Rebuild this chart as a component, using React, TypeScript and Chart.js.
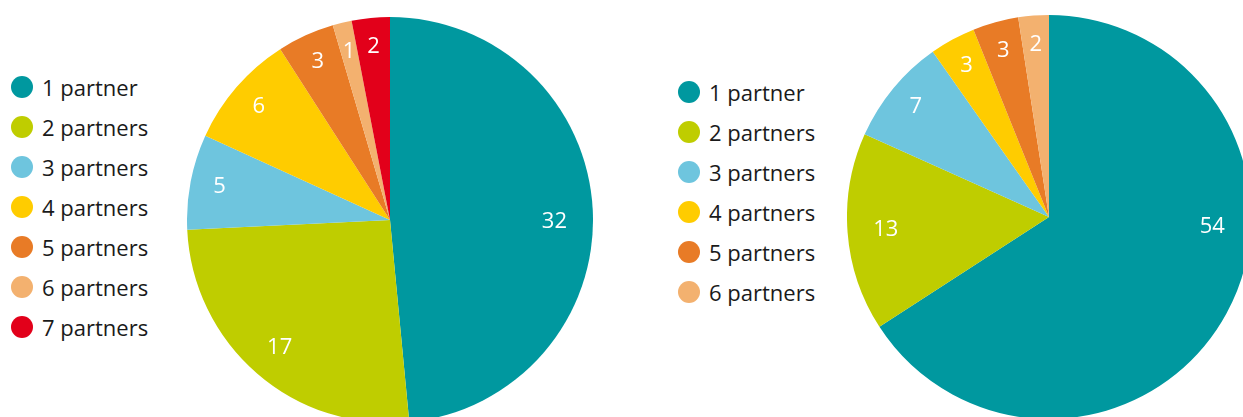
import React, { useEffect, useRef } from "react";
import { Chart, registerables } from "chart.js";

Chart.register(...registerables);

const leftCategories = ["1 partner", "2 partners", "3 partners", "4 partners", "5 partners", "6 partners", "7 partners"];
const leftValues = [32, 17, 5, 6, 3, 1, 2];

const rightCategories = ["1 partner", "2 partners", "3 partners", "4 partners", "5 partners", "6 partners"];
const rightValues = [54, 13, 7, 3, 3, 2];

const COLORS = ["#00989f", "#bfcd00", "#6ec5de", "#ffcc00", "#e87b26", "#f3b16f", "#e2001a"];

const FONT = "'Open Sans', 'DejaVu Sans', sans-serif";

const labelPlugin = {
  id: "sliceLabels",
  afterDatasetsDraw(chart: any, _args: any, opts: any) {
    const ctx = chart.ctx;
    const meta = chart.getDatasetMeta(0);
    const data = chart.data.datasets[0].data;
    const overrides = (opts && opts.angleShift) || {};
    const fracs = (opts && opts.fracs) || {};
    ctx.save();
    ctx.fillStyle = "#ffffff";
    ctx.font = "22px " + FONT;
    ctx.textAlign = "center";
    ctx.textBaseline = "middle";
    meta.data.forEach((arc: any, i: number) => {
      const p = arc.getProps(["x", "y", "startAngle", "endAngle", "outerRadius"], true);
      let a = (p.startAngle + p.endAngle) / 2;
      if (overrides[i] !== undefined) a += overrides[i];
      const f = fracs[i] !== undefined ? fracs[i] : 0.855;
      const r = p.outerRadius * f;
      ctx.fillText(String(data[i]), p.x + Math.cos(a) * r, p.y + Math.sin(a) * r);
    });
    ctx.restore();
  },
};

function PieCanvas(props: { values: number[]; labels: string[]; size: number; left: number; top: number; pluginOpts: any }) {
  const ref = useRef<HTMLCanvasElement>(null);
  useEffect(() => {
    if (!ref.current) return;
    const chart = new Chart(ref.current, {
      type: "pie",
      data: {
        labels: props.labels,
        datasets: [
          {
            data: props.values,
            backgroundColor: COLORS.slice(0, props.values.length),
            borderWidth: 0,
            hoverBorderWidth: 0,
            offset: 0,
            hoverOffset: 0,
          } as any,
        ],
      },
      options: {
        responsive: false,
        animation: false,
        layout: { padding: 0 },
        plugins: {
          legend: { display: false },
          tooltip: { enabled: false },
          sliceLabels: props.pluginOpts,
        } as any,
      },
      plugins: [labelPlugin],
    });
    return () => chart.destroy();
  }, []);
  return (
    <canvas
      ref={ref}
      width={props.size}
      height={props.size}
      style={{ position: "absolute", left: props.left, top: props.top, width: props.size, height: props.size }}
    />
  );
}

function Legend(props: { labels: string[]; x: number; y0: number; step: number }) {
  return (
    <>
      {props.labels.map((l, i) => (
        <div
          key={l}
          style={{
            position: "absolute",
            left: props.x - 11,
            top: props.y0 + i * props.step - 20,
            height: 40,
            display: "flex",
            alignItems: "center",
            fontFamily: FONT,
            fontSize: 22,
            color: "#1a1a1a",
            whiteSpace: "nowrap",
          }}
        >
          <span
            style={{
              display: "inline-block",
              width: 22,
              height: 22,
              borderRadius: "50%",
              background: COLORS[i],
              marginRight: 9,
            }}
          />
          <span>{l}</span>
        </div>
      ))}
    </>
  );
}

export default function App() {
  return (
    <div
      style={{
        position: "fixed",
        left: 0,
        top: 0,
        width: 1243,
        height: 417,
        overflow: "hidden",
        background: "#ffffff",
      }}
    >
      <Legend labels={leftCategories} x={22} y0={87} step={40} />
      <PieCanvas values={leftValues} labels={leftCategories} size={406} left={187} top={17} pluginOpts={{ fracs: { 0: 0.81, 1: 0.83 }, angleShift: { 0: 0.06 } }} />
      <Legend labels={rightCategories} x={689} y0={92} step={40} />
      <PieCanvas values={rightValues} labels={rightCategories} size={404} left={847} top={15} pluginOpts={{ fracs: { 0: 0.81, 1: 0.81 }, angleShift: { 0: -0.44 } }} />
    </div>
  );
}
